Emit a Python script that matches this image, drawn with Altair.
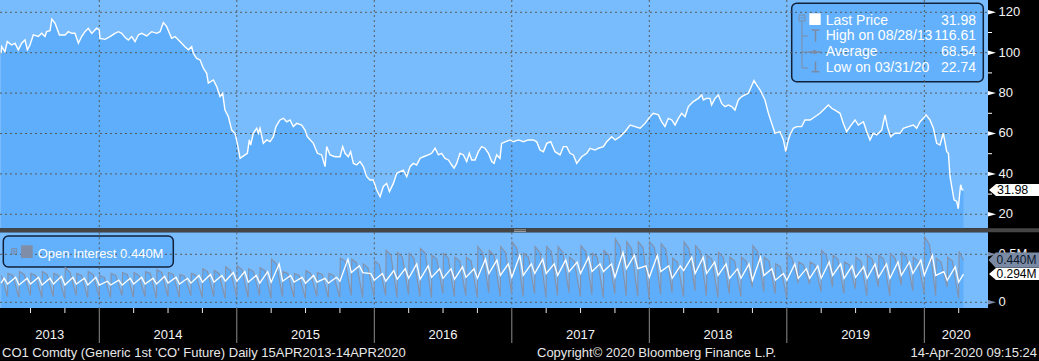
import altair as alt
import pandas as pd

# ---------------- data ----------------
price_t = [
    2013.286, 2013.290, 2013.314, 2013.331, 2013.363, 2013.387, 2013.411, 2013.436, 2013.460, 2013.477,
    2013.496, 2013.520, 2013.557, 2013.581, 2013.605, 2013.617, 2013.642, 2013.655, 2013.678, 2013.710,
    2013.751, 2013.775, 2013.799, 2013.823, 2013.848, 2013.872, 2013.896, 2013.920, 2013.945, 2013.957,
    2013.981, 2014.000, 2014.005, 2014.042, 2014.078, 2014.114, 2014.139, 2014.163, 2014.187, 2014.211,
    2014.236, 2014.260, 2014.284, 2014.308, 2014.345, 2014.381, 2014.417, 2014.442, 2014.466, 2014.490,
    2014.526, 2014.551, 2014.587, 2014.623, 2014.648, 2014.672, 2014.684, 2014.708, 2014.733, 2014.757,
    2014.781, 2014.793, 2014.830, 2014.854, 2014.878, 2014.897, 2014.914, 2014.939, 2014.963, 2014.987,
    2015.004, 2015.024, 2015.060, 2015.077, 2015.091, 2015.101, 2015.120, 2015.145, 2015.157, 2015.169,
    2015.193, 2015.217, 2015.242, 2015.266, 2015.285, 2015.314, 2015.339, 2015.363, 2015.387, 2015.411,
    2015.436, 2015.472, 2015.496, 2015.513, 2015.557, 2015.586, 2015.617, 2015.642, 2015.654, 2015.678,
    2015.714, 2015.751, 2015.770, 2015.787, 2015.811, 2015.828, 2015.848, 2015.872, 2015.896, 2015.920,
    2015.945, 2015.969, 2015.993, 2016.017, 2016.042, 2016.066, 2016.090, 2016.110, 2016.139, 2016.163,
    2016.187, 2016.211, 2016.236, 2016.260, 2016.284, 2016.308, 2016.333, 2016.357, 2016.393, 2016.417,
    2016.442, 2016.466, 2016.490, 2016.514, 2016.539, 2016.563, 2016.580, 2016.599, 2016.623, 2016.648,
    2016.672, 2016.691, 2016.708, 2016.733, 2016.757, 2016.781, 2016.805, 2016.830, 2016.854, 2016.871,
    2016.890, 2016.914, 2016.926, 2016.951, 2016.987, 2017.011, 2017.048, 2017.084, 2017.120, 2017.157,
    2017.181, 2017.205, 2017.230, 2017.254, 2017.283, 2017.314, 2017.351, 2017.375, 2017.399, 2017.423,
    2017.448, 2017.472, 2017.508, 2017.545, 2017.569, 2017.605, 2017.630, 2017.666, 2017.690, 2017.726,
    2017.751, 2017.787, 2017.823, 2017.860, 2017.896, 2017.933, 2017.969, 2018.005, 2018.029, 2018.066,
    2018.090, 2018.114, 2018.138, 2018.163, 2018.187, 2018.211, 2018.235, 2018.260, 2018.284, 2018.320,
    2018.357, 2018.381, 2018.393, 2018.417, 2018.441, 2018.453, 2018.478, 2018.502, 2018.526, 2018.550,
    2018.575, 2018.599, 2018.623, 2018.647, 2018.672, 2018.696, 2018.720, 2018.740, 2018.761, 2018.781,
    2018.805, 2018.841, 2018.866, 2018.890, 2018.914, 2018.950, 2018.975, 2018.992, 2019.011, 2019.023,
    2019.047, 2019.072, 2019.108, 2019.132, 2019.169, 2019.205, 2019.241, 2019.278, 2019.302, 2019.326,
    2019.350, 2019.387, 2019.411, 2019.435, 2019.460, 2019.496, 2019.520, 2019.557, 2019.581, 2019.605,
    2019.629, 2019.654, 2019.690, 2019.714, 2019.731, 2019.755, 2019.787, 2019.823, 2019.847, 2019.884,
    2019.920, 2019.944, 2019.969, 2019.993, 2020.012, 2020.041, 2020.066, 2020.090, 2020.114, 2020.138,
    2020.163, 2020.175, 2020.187, 2020.199, 2020.216, 2020.235, 2020.247, 2020.255, 2020.264, 2020.274,
    2020.285,
]
price_v = [
    99.7, 103.0, 100.5, 105.5, 103.8, 104.7, 101.4, 104.7, 106.3, 101.4,
    103.8, 108.8, 108.0, 109.6, 108.0, 110.4, 110.9, 116.61, 114.6, 108.8,
    108.8, 110.4, 109.6, 109.6, 104.7, 108.0, 110.4, 112.1, 109.6, 110.4,
    112.1, 111.3, 107.1, 106.6, 108.0, 109.6, 110.4, 109.6, 107.6, 106.3,
    108.0, 105.5, 108.8, 109.6, 108.3, 110.4, 109.6, 110.4, 114.9, 112.9,
    107.1, 108.0, 105.5, 103.0, 101.4, 103.0, 99.7, 97.2, 96.4, 92.3,
    89.8, 84.9, 86.5, 83.2, 78.3, 79.9, 71.6, 68.3, 61.7, 60.1,
    55.1, 47.7, 49.4, 50.2, 56.8, 54.3, 60.1, 62.6, 60.1, 62.6,
    55.1, 56.8, 56.0, 58.4, 63.4, 66.7, 67.5, 65.8, 66.7, 63.4,
    65.0, 64.2, 61.7, 58.4, 55.1, 50.2, 49.4, 43.6, 53.5, 49.4,
    48.5, 48.5, 53.5, 50.2, 48.5, 51.0, 45.2, 44.4, 46.1, 43.6,
    38.6, 37.0, 37.0, 32.0, 28.7, 33.8, 35.3, 31.2, 35.3, 40.3,
    41.1, 41.9, 38.6, 43.6, 45.2, 44.4, 47.7, 48.5, 49.4, 50.2,
    52.7, 49.4, 50.2, 47.7, 46.9, 44.4, 42.8, 45.2, 50.2, 49.4,
    46.1, 50.2, 46.9, 46.9, 51.0, 53.5, 52.7, 50.2, 46.1, 45.2,
    49.4, 47.7, 55.1, 55.9, 56.8, 55.9, 56.8, 55.9, 56.8, 56.8,
    55.9, 51.8, 51.0, 55.1, 55.9, 51.0, 49.4, 53.5, 53.5, 50.2,
    49.4, 45.2, 48.5, 50.2, 52.7, 51.8, 52.7, 53.5, 55.9, 58.4,
    56.8, 58.4, 60.9, 64.2, 63.4, 62.6, 65.0, 68.3, 70.0, 69.2,
    65.8, 63.4, 67.5, 66.7, 64.2, 67.5, 70.0, 68.3, 73.3, 75.8,
    77.4, 79.1, 76.6, 77.4, 77.4, 74.1, 77.4, 79.1, 74.9, 73.3,
    74.1, 73.3, 71.6, 76.6, 78.3, 79.1, 79.9, 82.9, 86.2, 84.0,
    81.6, 76.6, 70.0, 65.0, 60.1, 60.9, 56.8, 51.0, 56.8, 59.3,
    62.6, 63.4, 63.4, 66.7, 66.7, 68.3, 70.0, 72.5, 74.1, 72.5,
    71.6, 70.0, 65.0, 60.9, 63.4, 66.7, 64.2, 65.8, 60.9, 56.8,
    60.1, 59.3, 61.7, 69.2, 63.4, 58.4, 60.1, 60.1, 62.6, 63.4,
    64.2, 62.6, 65.8, 67.5, 69.2, 66.7, 62.6, 55.1, 54.3, 60.1,
    51.0, 50.2, 38.6, 33.8, 27.2, 26.4, 22.74, 28.7, 34.6, 32.2,
    31.98,
]

# Open interest, one value per monthly contract cycle (Apr 2013 .. Apr 2020), in millions
gray_peak = [
    0.30, 0.30, 0.32, 0.30, 0.32, 0.30, 0.36, 0.30, 0.32,
    0.28, 0.30, 0.31, 0.31, 0.32, 0.34, 0.31, 0.29, 0.30, 0.35, 0.33, 0.37,
    0.38, 0.35, 0.36, 0.45, 0.32, 0.30, 0.33, 0.31, 0.30, 0.46, 0.45, 0.40,
    0.43, 0.54, 0.52, 0.51, 0.56, 0.49, 0.51, 0.47, 0.47, 0.58, 0.54, 0.58,
    0.63, 0.51, 0.58, 0.58, 0.58, 0.47, 0.59, 0.51, 0.54, 0.66, 0.63, 0.63,
    0.63, 0.61, 0.46, 0.63, 0.59, 0.49, 0.52, 0.47, 0.47, 0.59, 0.47, 0.40,
    0.51, 0.42, 0.42, 0.54, 0.49, 0.42, 0.47, 0.49, 0.49, 0.51, 0.52, 0.47,
    0.68, 0.46, 0.47, 0.53,
]
gray_knee = [
    0.28, 0.28, 0.29, 0.28, 0.29, 0.28, 0.31, 0.28, 0.29,
    0.26, 0.28, 0.29, 0.28, 0.30, 0.31, 0.29, 0.27, 0.28, 0.32, 0.30, 0.33,
    0.34, 0.32, 0.33, 0.40, 0.30, 0.28, 0.30, 0.29, 0.28, 0.43, 0.41, 0.36,
    0.39, 0.49, 0.47, 0.46, 0.51, 0.45, 0.46, 0.43, 0.43, 0.52, 0.49, 0.52,
    0.56, 0.47, 0.52, 0.53, 0.52, 0.43, 0.53, 0.47, 0.49, 0.58, 0.56, 0.57,
    0.57, 0.55, 0.42, 0.56, 0.53, 0.45, 0.47, 0.43, 0.43, 0.53, 0.43, 0.37,
    0.46, 0.39, 0.39, 0.49, 0.45, 0.39, 0.43, 0.45, 0.45, 0.46, 0.47, 0.43,
    0.60, 0.42, 0.43, 0.44,
]
gray_trough = [
    0.06, 0.05, 0.07, 0.05, 0.06, 0.04, 0.07, 0.05, 0.06,
    0.05, 0.07, 0.05, 0.06, 0.04, 0.06, 0.05, 0.07, 0.05, 0.06, 0.04, 0.06,
    0.05, 0.07, 0.04, 0.06, 0.05, 0.04, 0.06, 0.05, 0.05, 0.07, 0.05, 0.06,
    0.07, 0.05, 0.08, 0.06, 0.05, 0.09, 0.06, 0.07, 0.05, 0.10, 0.06, 0.08,
    0.06, 0.09, 0.05, 0.07, 0.10, 0.06, 0.08, 0.05, 0.09, 0.07, 0.06, 0.04,
    0.08, 0.10, 0.06, 0.12, 0.07, 0.05, 0.09, 0.06, 0.16, 0.11, 0.09, 0.05,
    0.20, 0.19, 0.11, 0.16, 0.09, 0.14, 0.07, 0.16, 0.07, 0.18, 0.12, 0.09,
    0.07, 0.16, 0.04, 0.44,
]
white_trough = [
    0.19, 0.19, 0.18, 0.19, 0.18, 0.19, 0.18, 0.19, 0.18,
    0.18, 0.18, 0.18, 0.19, 0.19, 0.19, 0.20, 0.19, 0.20, 0.21, 0.21, 0.22,
    0.22, 0.21, 0.20, 0.21, 0.22, 0.21, 0.20, 0.21, 0.20, 0.22, 0.31, 0.31,
    0.23, 0.22, 0.24, 0.25, 0.24, 0.26, 0.25, 0.24, 0.26, 0.25, 0.30, 0.28,
    0.26, 0.28, 0.30, 0.30, 0.28, 0.32, 0.30, 0.32, 0.32, 0.26, 0.35, 0.35,
    0.26, 0.32, 0.25, 0.33, 0.30, 0.30, 0.28, 0.25, 0.25, 0.23, 0.28, 0.23,
    0.23, 0.25, 0.25, 0.25, 0.28, 0.25, 0.26, 0.25, 0.26, 0.25, 0.28, 0.30,
    0.28, 0.28, 0.23, 0.21,
]
white_peak = [
    0.25, 0.26, 0.25, 0.26, 0.25, 0.27, 0.26, 0.25, 0.26,
    0.22, 0.23, 0.25, 0.26, 0.25, 0.27, 0.26, 0.25, 0.28, 0.29, 0.28, 0.31,
    0.32, 0.28, 0.32, 0.40, 0.28, 0.26, 0.28, 0.25, 0.26, 0.45, 0.38, 0.30,
    0.30, 0.33, 0.35, 0.40, 0.38, 0.35, 0.35, 0.37, 0.35, 0.45, 0.44, 0.40,
    0.49, 0.40, 0.45, 0.40, 0.44, 0.42, 0.47, 0.40, 0.40, 0.52, 0.49, 0.38,
    0.49, 0.38, 0.38, 0.47, 0.47, 0.42, 0.40, 0.35, 0.40, 0.47, 0.35, 0.30,
    0.40, 0.35, 0.38, 0.42, 0.40, 0.38, 0.37, 0.40, 0.40, 0.42, 0.42, 0.44,
    0.49, 0.32, 0.37, 0.29,
]
white_start = 0.20
last_price = 31.98
last_oi = 0.440
last_white = 0.294

price_ticks = [20, 40, 60, 80, 100, 120]
price_minor = [30, 50, 70, 90, 110]
oi_ticks = [0, 0.5]
oi_tick_labels = ["0", "0.5M"]
year_marks = [2014, 2015, 2016, 2017, 2018, 2019, 2020]
year_labels = ["2013", "2014", "2015", "2016", "2017", "2018", "2019", "2020"]

X_DOMAIN = [2013.278, 2020.463]
DATA_START = 2013.286
DATA_END = 2020.285
FIRST_ROLL = 2013.25

# ---------------- tables ----------------
price_df = pd.DataFrame({"t": price_t, "p": price_v})

gray_pts, white_pts = [], [(DATA_START, white_start)]
L = 1 / 12.0
for k in range(len(gray_peak)):
    s = FIRST_ROLL + k * L
    gray_pts += [(s + 0.003, gray_peak[k]), (s + 0.45 * L, gray_knee[k]), (s + L - 0.001, gray_trough[k])]
    white_pts += [(s, white_trough[k]), (s + 0.7 * L, white_peak[k])]
gray_pts = [q for q in gray_pts if DATA_START <= q[0] < DATA_END] + [(DATA_END, last_oi)]
white_pts = [q for q in white_pts if DATA_START <= q[0] < DATA_END] + [(DATA_END, last_white)]
gray_df = pd.DataFrame(gray_pts, columns=["t", "v"])
white_df = pd.DataFrame(white_pts, columns=["t", "v"])

quarters = [y + q for y in range(2013, 2021) for q in (0.25, 0.5, 0.75)]
quarters = [q for q in quarters if X_DOMAIN[0] < q < X_DOMAIN[1]]
edges = [X_DOMAIN[0]] + year_marks + [X_DOMAIN[1]]
label_df = pd.DataFrame({"t": [(edges[i] + edges[i + 1]) / 2 for i in range(len(year_labels))],
                         "lab": year_labels})

# ---------------- styling ----------------
FONT = "Liberation Sans"
BG = "#78bcfd"
FILL = "#5eaefb"
GRID = "#5a5a5a"
OI_GRAY = "#8592ab"
W, H = 988, 308
TOP_B = 228.3
BOT_T = 232.3

XS = alt.Scale(domain=X_DOMAIN, zero=False, nice=False)
PY = alt.Scale(domain=[-26.39, 126.09], zero=False, nice=False)
OY = alt.Scale(domain=[-0.0594, 3.149], zero=False, nice=False)

X = alt.X("t:Q", scale=XS, axis=None)
YP = alt.Y("p:Q", scale=PY, axis=None, stack=None)
YO = alt.Y("v:Q", scale=OY, axis=None, stack=None)

one = alt.Data(values=[{"a": 1}])

TRI = "M -1 -0.55 L 1 0 L -1 0.55 Z"
TAG = "M -1 0 L -0.72 -0.24 L 1 -0.24 L 1 0.24 L -0.72 0.24 Z"
TAG_TALL = "M -1 0 L -0.72 -0.3 L 1 -0.3 L 1 0.3 L -0.72 0.3 Z"


def rect(x, x2, y, y2, **kw):
    return alt.Chart(one).mark_rect(**kw).encode(
        x=alt.value(x), x2=alt.value(x2), y=alt.value(y), y2=alt.value(y2))


def seg(x, x2, y, y2, color, width=1.0):
    return alt.Chart(one).mark_rule(color=color, strokeWidth=width).encode(
        x=alt.value(x), x2=alt.value(x2), y=alt.value(y), y2=alt.value(y2))


def txt(s, x, y, size=13, color="#ffffff", align="left"):
    return alt.Chart(one).mark_text(text=s, align=align, baseline="middle", fontSize=size,
                                    font=FONT, color=color).encode(x=alt.value(x), y=alt.value(y))


layers = []
# panel backgrounds
layers += [rect(0, W, 0, TOP_B, color=BG), rect(0, W, BOT_T, H, color=BG)]
# areas
layers.append(alt.Chart(price_df).mark_area(color=FILL).encode(x=X, y=YP, y2=alt.value(TOP_B)))
layers.append(alt.Chart(gray_df).mark_area(color=FILL).encode(x=X, y=YO, y2=alt.value(H)))
# separator between panels
layers += [rect(0, 1039, TOP_B, BOT_T, color="#454545"),
           rect(514, 526, 229.3, 230.3, color="#9a9a9a"), rect(514, 526, 231.0, 232.0, color="#9a9a9a")]
# legend boxes (under the grid)
layers.append(rect(791.7, 983.3, 3.3, 81.7, color="#63b1fc", stroke="#12213a", strokeWidth=1.5, cornerRadius=5))
layers.append(rect(3.3, 173.3, 236.0, 267.0, color="#63b1fc", stroke="#12213a", strokeWidth=1.5, cornerRadius=5))
# grid
gs = dict(color=GRID, strokeDash=[2, 3], strokeWidth=1)
layers.append(alt.Chart(pd.DataFrame({"p": price_ticks})).mark_rule(**gs).encode(
    y=YP, x=alt.value(0), x2=alt.value(W)))
layers.append(alt.Chart(pd.DataFrame({"t": year_marks})).mark_rule(**gs).encode(
    x=X, y=alt.value(0), y2=alt.value(TOP_B)))
layers.append(alt.Chart(pd.DataFrame({"v": oi_ticks})).mark_rule(**gs).encode(
    y=YO, x=alt.value(0), x2=alt.value(W)))
layers.append(alt.Chart(pd.DataFrame({"t": year_marks})).mark_rule(**gs).encode(
    x=X, y=alt.value(BOT_T), y2=alt.value(H)))
# series lines
layers.append(alt.Chart(gray_df).mark_line(color=OI_GRAY, strokeWidth=1.2).encode(x=X, y=YO))
layers.append(alt.Chart(white_df).mark_line(color="white", strokeWidth=1.3).encode(x=X, y=YO))
layers.append(alt.Chart(price_df).mark_line(color="white", strokeWidth=1.4).encode(x=X, y=YP))

# right axis (price)
layers.append(alt.Chart(pd.DataFrame({"p": price_ticks})).mark_point(
    shape=TRI, size=64, filled=True, color="white", opacity=1).encode(y=YP, x=alt.value(992)))
layers.append(alt.Chart(pd.DataFrame({"p": price_minor})).mark_rule(color="white").encode(
    y=YP, x=alt.value(988), x2=alt.value(992)))
layers.append(alt.Chart(pd.DataFrame({"p": price_ticks})).mark_text(
    align="left", baseline="middle", fontSize=13, font=FONT, color="#f4f4f4").encode(
    y=YP, x=alt.value(998.5), text=alt.Text("p:Q")))
# right axis (open interest)
layers.append(alt.Chart(pd.DataFrame({"v": oi_ticks})).mark_point(
    shape=TRI, size=64, filled=True, color="#7d8ca6", opacity=1).encode(y=YO, x=alt.value(992)))
layers.append(alt.Chart(pd.DataFrame({"v": oi_ticks, "lab": oi_tick_labels})).mark_text(
    align="left", baseline="middle", fontSize=13, font=FONT, color="#f4f4f4").encode(
    y=YO, x=alt.value(998.5), text="lab:N"))
# value tags
layers.append(alt.Chart(pd.DataFrame({"p": [last_price]})).mark_point(
    shape=TAG, size=2500, filled=True, color="white", opacity=1).encode(y=YP, x=alt.value(1014)))
layers.append(alt.Chart(pd.DataFrame({"p": [last_price]})).mark_text(
    align="left", baseline="middle", fontSize=12.5, font=FONT, color="#000000").encode(
    y=YP, x=alt.value(997), text=alt.Text("p:Q", format=".2f")))
layers.append(alt.Chart(pd.DataFrame({"v": [last_oi]})).mark_point(
    shape=TAG_TALL, size=2601, filled=True, color="#7b8aa4", opacity=1).encode(y=YO, x=alt.value(1014)))
layers.append(alt.Chart(pd.DataFrame({"v": [last_oi]})).transform_calculate(
    lab="format(datum.v, '.3f') + 'M'").mark_text(
    align="left", baseline="middle", fontSize=12, font=FONT, color="#0b1629").encode(
    y=YO, x=alt.value(996.5), text="lab:N"))
layers.append(alt.Chart(pd.DataFrame({"v": [last_white]})).mark_point(
    shape=TAG, size=2500, filled=True, color="white", opacity=1).encode(y=YO, x=alt.value(1014)))
layers.append(alt.Chart(pd.DataFrame({"v": [last_white]})).transform_calculate(
    lab="format(datum.v, '.3f') + 'M'").mark_text(
    align="left", baseline="middle", fontSize=12, font=FONT, color="#000000").encode(
    y=YO, x=alt.value(996.5), text="lab:N"))

# bottom time axis
layers.append(alt.Chart(pd.DataFrame({"t": year_marks})).mark_rule(color="#8c8c8c", strokeWidth=1).encode(
    x=X, y=alt.value(H), y2=alt.value(343)))
layers.append(alt.Chart(pd.DataFrame({"t": quarters})).mark_rule(color="#e8e8e8", strokeWidth=1).encode(
    x=X, y=alt.value(H), y2=alt.value(313)))
layers.append(alt.Chart(label_df).mark_text(
    align="center", baseline="middle", fontSize=13, font=FONT, color="#f4f4f4").encode(
    x=X, y=alt.value(335), text="lab:N"))

# footer
layers.append(txt("CO1 Comdty (Generic 1st 'CO' Future)  Daily 15APR2013-14APR2020", 2, 352.5, 13, "#e8e8e8"))
layers.append(txt("Copyright\u00a9 2020 Bloomberg Finance L.P.", 537, 352.5, 13, "#e8e8e8"))
layers.append(txt("14-Apr-2020 09:15:24", 1037, 352.5, 13, "#e8e8e8", align="right"))

# top legend
LG = "#7c8ba3"
layers += [
    rect(799, 805, 15, 21, color="#63b1fc", stroke=LG, strokeWidth=1),
    seg(800.5, 803.5, 18, 18, LG),
    seg(802, 802, 21, 68, LG),
    seg(802, 808, 36, 36, LG), seg(802, 808, 52, 52, LG), seg(802, 808, 68, 68, LG),
    rect(809.3, 820.7, 13.3, 25, color="white"),
    seg(811.7, 819.3, 30, 30, LG, 1.5), seg(815.5, 815.5, 30, 41.7, LG, 1.5),
    seg(808, 821, 52, 52, LG, 1.5),
    alt.Chart(one).mark_point(shape="circle", size=18, filled=True, color=LG, opacity=1).encode(
        x=alt.value(814.5), y=alt.value(52)),
    seg(815.5, 815.5, 61.7, 71.7, LG, 1.5), seg(811.7, 819.3, 71.7, 71.7, LG, 1.5),
    txt("Last Price", 825.7, 20.5, 14), txt("31.98", 976, 20.5, 14, align="right"),
    txt("High on 08/28/13", 825.7, 36, 14), txt("116.61", 976, 36, 14, align="right"),
    txt("Average", 825.7, 52, 14), txt("68.54", 976, 52, 14, align="right"),
    txt("Low on 03/31/20", 825.7, 68, 14), txt("22.74", 976, 68, 14, align="right"),
]
# bottom legend
layers += [
    rect(11.7, 16.7, 248.7, 253.7, color="#63b1fc", stroke=LG, strokeWidth=1),
    seg(12.7, 15.7, 251.2, 251.2, LG), seg(14.2, 14.2, 249.7, 252.7, LG),
    rect(21, 32.7, 245.3, 258, color="#7f8da6"),
    txt("Open Interest 0.440M", 37.7, 253.7, 13),
]

chart = alt.layer(*layers).resolve_scale(y="independent").properties(
    width=W, height=H,
    padding={"left": 0, "top": 0, "right": 51, "bottom": 53},
    autosize=alt.AutoSizeParams(type="none"),
).configure(background="#000000").configure_view(strokeWidth=0)

chart.save("out.html", embed_options={"renderer": "svg", "actions": False})
